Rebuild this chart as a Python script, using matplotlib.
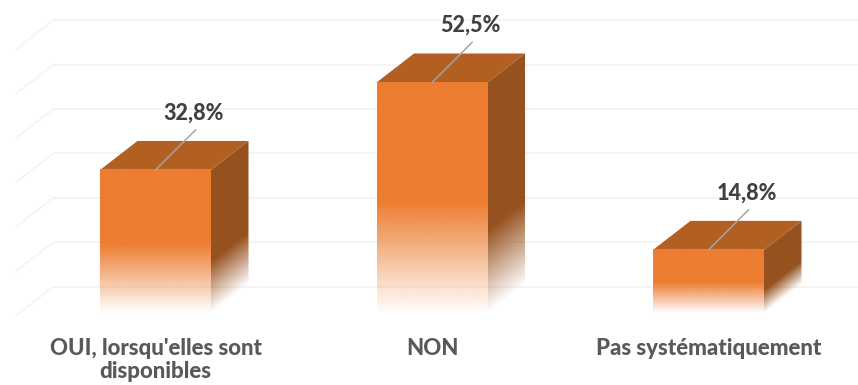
import numpy as np
import matplotlib
matplotlib.use("Agg")
import matplotlib.pyplot as plt
from matplotlib.patches import Polygon

categories = ["OUI, lorsqu'elles sont\ndisponibles", "NON", "Pas systématiquement"]
values = [32.8, 52.5, 14.8]
value_labels = ["32,8%", "52,5%", "14,8%"]
grid_levels = [0, 10, 20, 30, 40, 50, 60]

front_col = "#ed7d31"
top_col = "#b25f22"
side_col = "#96521f"
grid_col = "#f2f2f2"

# pixel scale of the picture: one category = 276.5 px, 1 % = 4.44 px
px_x = 276.5
px_y = 4.44
depth_x = 37.5 / px_x
depth_y = 29 / px_y
bar_w = 111 / px_x
fade = 0.48
side_fade = 0.36

plt.rcParams["font.family"] = ["Lato", "DejaVu Sans"]
fig = plt.figure(figsize=(8.58, 3.85), dpi=100)
ax = fig.add_axes([0, 0, 1, 1])
ax.axis("off")


def grad_image(color, a):
    rgb = matplotlib.colors.to_rgb(color)
    img = np.zeros(a.shape + (4,))
    img[..., :3] = rgb
    img[..., 3] = a
    return img


# grid: back wall and left wall
x_left = -155.5 / px_x + 16 / px_x
for g in grid_levels:
    ax.plot([x_left + depth_x, 3], [g + depth_y, g + depth_y], color=grid_col, lw=1.2, zorder=1)
    ax.plot([x_left, x_left + depth_x], [g, g + depth_y], color=grid_col, lw=1.0, zorder=1)

for i, v in enumerate(values):
    x0 = i - bar_w / 2
    x1 = i + bar_w / 2
    y0 = 0.55

    # side face, fade follows the slant of the face
    xs = np.linspace(x1, x1 + depth_x, 60)
    ys = np.linspace(y0, v + depth_y, 400)
    xx, yy = np.meshgrid(xs, ys)
    rel = yy - (xx - x1) / depth_x * depth_y
    a = np.clip((rel - y0) / (side_fade * (v - y0)), 0, 1)
    im = ax.imshow(grad_image(side_col, a), origin="lower", aspect="auto",
                   extent=(x1, x1 + depth_x, y0, v + depth_y), zorder=3)
    side = Polygon([(x1, y0), (x1 + depth_x, y0 + depth_y), (x1 + depth_x, v + depth_y), (x1, v)],
                   transform=ax.transData, fc="none", ec="none")
    ax.add_patch(side)
    im.set_clip_path(side)

    # top face
    ax.add_patch(Polygon([(x0, v), (x1, v), (x1 + depth_x, v + depth_y), (x0 + depth_x, v + depth_y)],
                         fc=top_col, ec="none", zorder=3))

    # front face
    ys = np.linspace(y0, v, 400)
    a = np.clip((ys - y0) / (fade * (v - y0)), 0, 1).reshape(-1, 1)
    ax.imshow(grad_image(front_col, a), origin="lower", aspect="auto",
              extent=(x0, x1, y0, v), zorder=4)

    # leader line and value
    ax.annotate("", xy=(i, v), xytext=(29, 29), textcoords="offset points",
                arrowprops=dict(arrowstyle="-", color="#a5a5a5", lw=1.1, shrinkA=0, shrinkB=0), zorder=5)
    ax.annotate(value_labels[i], xy=(i, v), xytext=(27.5, 41), textcoords="offset points",
                ha="center", va="center", fontsize=15.5, fontweight="black", color="#404040", zorder=6)

    ax.text(i, -5.0, categories[i], ha="center", va="top", fontsize=16, fontweight="black",
            color="#595959", linespacing=1.15, zorder=6)

ax.set_xlim(-155.5 / px_x, (858 - 155.5) / px_x)
ax.set_ylim((315.6 - 385) / px_y, 315.6 / px_y)

fig.savefig("out.png", dpi=100)
